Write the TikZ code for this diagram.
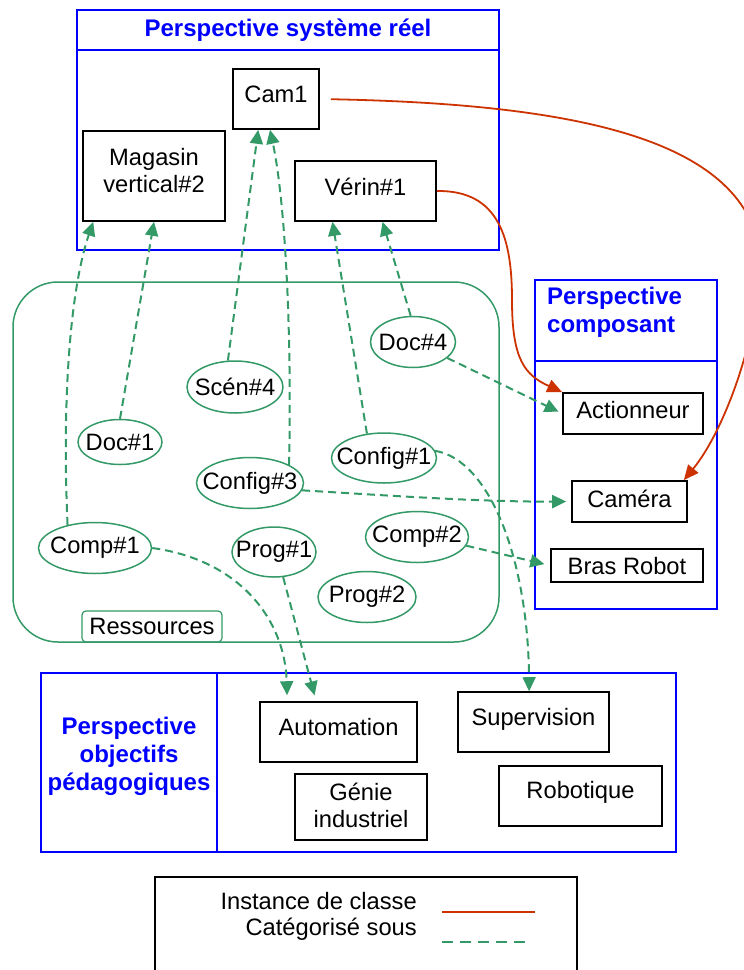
\documentclass[tikz,border=0pt]{standalone}
\usepackage{fontspec}
\setmainfont{Liberation Sans}
\usetikzlibrary{arrows.meta, shapes.geometric}
\definecolor{persblue}{HTML}{0000FF}
\definecolor{resgreen}{HTML}{339966}
\definecolor{instred}{HTML}{CC3300}
\tikzset{
  itembox/.style={draw=black, line width=1.6pt, align=center, inner sep=0pt, text depth=10pt},
  resell/.style={ellipse, draw=resgreen, line width=1.5pt, inner sep=0pt},
  perstitle/.style={text=persblue, font=\fontsize{24}{28}\selectfont\bfseries, inner sep=0pt},
  catsous/.style={draw=resgreen, line width=2pt, dash pattern=on 8pt off 5pt,
    -{Triangle[length=14pt, width=13pt]}},
  instance/.style={draw=instred, line width=1.8pt, -{Triangle[length=15pt, width=13pt]}},
}
\newcommand{\itembox}[6][]{%
  \node[itembox, minimum width=#4pt, minimum height=#5pt, #1] (#2) at (#3) {#6};}
\newcommand{\resnode}[5]{%
  \node[resell, minimum width=#3pt, minimum height=#4pt] (#1) at (#2) {\makebox[0pt]{#5}};}

\begin{document}
\begin{tikzpicture}[x=1pt, y=-1pt, font=\fontsize{23.7}{27}\selectfont]
  \useasboundingbox (0,0) rectangle (744,970);

  \draw[persblue, line width=1.5pt] (77,50) rectangle (499,250);
  \draw[persblue, line width=2.5pt] (77,10) rectangle (499,50);
  \node[perstitle] (tsys) at (288,30) {Perspective système réel};
  \itembox{cam1}{276,99}{86}{60}{Cam1}
  \itembox[text depth=12pt]{magasin}{154,176}{142}{90}{Magasin\\vertical\#2}
  \itembox[text depth=8pt]{verin}{365.5,191}{141}{60}{Vérin\#1}

  \draw[resgreen, line width=1.5pt, rounded corners=45pt] (13,282) rectangle (499,642);
  \node[draw=resgreen, line width=1.2pt, rounded corners=4pt, minimum width=140pt,
        minimum height=31pt, inner sep=0pt] (ressources) at (152,626.5) {Ressources};
  \resnode{doc4}{413,342}{85}{51}{Doc\#4}
  \resnode{scen4}{235,387}{96}{52}{Scén\#4}
  \resnode{doc1}{120,442}{84}{45}{Doc\#1}
  \resnode{config1}{384,458}{105}{50}{Config\#1}
  \resnode{config3}{250,483}{107}{51}{Config\#3}
  \resnode{comp1}{95,548}{113}{51}{Comp\#1}
  \resnode{prog1}{274,552}{84}{50}{Prog\#1}
  \resnode{comp2}{417,537}{103}{51}{Comp\#2}
  \resnode{prog2}{367,597}{98}{51}{Prog\#2}

  \draw[persblue, line width=2.5pt] (535,280) rectangle (717,361);
  \draw[persblue, line width=2.5pt] (535,361) rectangle (717,609);
  \node[perstitle, anchor=west, align=left] (tcomp) at (547,312) {Perspective\\composant};
  \itembox[text depth=7pt]{actionneur}{633,413.5}{140}{41}{Actionneur}
  \itembox[text depth=6pt]{camera}{629.5,501.5}{115}{41}{Caméra}
  \itembox[text depth=0pt]{bras}{627,565.5}{152}{33}{Bras Robot}

  \draw[persblue, line width=1.5pt] (217,673) rectangle (676,852);
  \draw[persblue, line width=2.5pt] (41,673) rectangle (217,852);
  \node[perstitle, align=center] (tobj) at (129,756) {Perspective\\objectifs\\pédagogiques};
  \itembox{automation}{338.5,732}{157}{60}{Automation}
  \itembox[text depth=4pt]{genie}{361,807}{132}{66}{Génie\\industriel}
  \itembox{supervision}{533.5,722}{151}{60}{Supervision}
  \itembox[text depth=12pt]{robotique}{580.5,796}{163}{60}{Robotique}

  \draw[catsous] (comp1.140) .. controls (62,400) and (70,290) .. (magasin.217);
  \draw[catsous] (doc1.north) -- (magasin.south);
  \draw[catsous] (scen4.105) -- (cam1.240);
  \draw[catsous] (config3.25) .. controls (292,330) and (285,200) .. (cam1.259);
  \draw[catsous] (config1.125) -- (verin.223);
  \draw[catsous] (doc4.95) -- (verin.299);
  \draw[catsous, shorten >=4pt] (doc4.-25) -- (actionneur.west);
  \draw[catsous, shorten >=5pt] (config3.-8) .. controls (380,495) and (480,502) .. (camera.west);
  \draw[catsous] (config1.8) .. controls (490,460) and (528,560) .. (supervision.98);
  \draw[catsous, shorten >=6pt] (comp2.-10) -- (bras.west);
  \draw[catsous, shorten >=6pt] (comp1.east) .. controls (240,560) and (285,620) .. (automation.149);
  \draw[catsous, shorten >=6pt] (prog1.-70) -- (automation.126);

  \draw[instance, shorten <=11pt] (cam1.east) .. controls (580,104) and (740,140) .. (760,250)
    .. controls (762,330) and (725,430) .. ([xshift=-4pt]camera.north east);
  \draw[instance] (verin.east) .. controls (500,190) and (512,240) .. (512,300)
    .. controls (512,360) and (525,375) .. (actionneur.north west);

  \draw[line width=2pt] (155,877) rectangle (577,990);
  \node[anchor=base east, inner sep=0pt] (lginst) at (417,909) {Instance de classe};
  \node[anchor=base east, inner sep=0pt] (lgcat) at (417,935) {Catégorisé sous};
  \coordinate (lgr1) at (442,912);
  \coordinate (lgr2) at (535,912);
  \coordinate (lgg1) at (442,942);
  \coordinate (lgg2) at (527,942);
  \draw[instred, line width=2.5pt] (lgr1) -- (lgr2);
  \draw[resgreen, line width=2.5pt, dash pattern=on 11pt off 7pt] (lgg1) -- (lgg2);
\end{tikzpicture}
\end{document}
